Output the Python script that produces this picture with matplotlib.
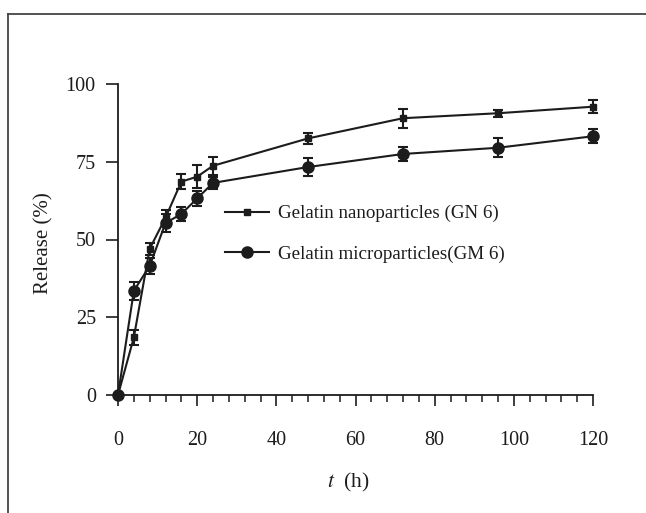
import matplotlib
matplotlib.use("Agg")
import matplotlib.pyplot as plt
from matplotlib.lines import Line2D
from matplotlib.ticker import MultipleLocator

# release data
t_h = [0, 4, 8, 12, 16, 20, 24, 48, 72, 96, 120]
nano = [0, 18.5, 47, 57, 68.6, 70.2, 73.7, 82.5, 89, 90.6, 92.7]
nano_err = [0, 2.5, 2, 2.6, 2.4, 3.7, 2.8, 1.8, 3, 1.2, 2.1]
micro = [0, 33.5, 41.5, 55.3, 58.2, 63.2, 68.2, 73.3, 77.5, 79.5, 83.2]
micro_err = [0, 2.8, 2.6, 3, 2.1, 2.5, 2, 2.9, 2.3, 3, 2.3]
labels = ["Gelatin nanoparticles (GN 6)", "Gelatin microparticles(GM 6)"]
yticks = [0, 25, 50, 75, 100]
xticks = [0, 20, 40, 60, 80, 100, 120]

plt.rcParams["font.family"] = ["Liberation Serif", "DejaVu Serif"]
plt.rcParams["mathtext.fontset"] = "stix"
ink = "#1c1c1c"
fs = 14.5

fig = plt.figure(figsize=(6.46, 5.13), dpi=100)
ax = fig.add_axes([118 / 646, 1 - 395 / 513, 475 / 646, 311 / 513])

ax.errorbar(t_h, nano, yerr=nano_err, fmt="none", ecolor=ink, elinewidth=1.5,
            capsize=3.5, capthick=1.5, clip_on=False)
ax.errorbar(t_h, micro, yerr=micro_err, fmt="none", ecolor=ink, elinewidth=1.5,
            capsize=3.5, capthick=1.5, clip_on=False)
ax.plot(t_h, nano, color=ink, lw=1.5, marker="s", ms=4, label=labels[0],
        clip_on=False, zorder=3)
ax.plot(t_h, micro, color=ink, lw=1.5, marker="o", ms=8, label=labels[1],
        clip_on=False, zorder=3)

ax.set_xlim(0, 120)
ax.set_ylim(0, 100)
ax.set_xticks(xticks)
ax.set_yticks(yticks)
ax.xaxis.set_minor_locator(MultipleLocator(4))
for side in ["top", "right"]:
    ax.spines[side].set_visible(False)
for side in ["left", "bottom"]:
    ax.spines[side].set_color(ink)
    ax.spines[side].set_linewidth(1.3)
ax.tick_params(axis="x", which="major", direction="out", length=8, width=1.2,
               pad=18, labelsize=fs, colors=ink)
ax.tick_params(axis="x", which="minor", direction="out", length=5, width=1.1,
               colors=ink)
ax.tick_params(axis="y", which="major", direction="out", length=9, width=1.2,
               pad=7, labelsize=fs, colors=ink)

ax.set_ylabel("Release (%)", fontsize=15, color=ink)
ax.yaxis.set_label_coords(-0.135, 0.487)
ax.set_xlabel("$t$  (h)", fontsize=15.5, color=ink)
ax.xaxis.set_label_coords(0.485, -0.245)

ax.legend(loc="upper left", bbox_to_anchor=(225 / 646, 1 - 205 / 513),
          bbox_transform=fig.transFigure, frameon=False, borderpad=0,
          borderaxespad=0, handlelength=2.3, handletextpad=0.5,
          labelspacing=1.2, fontsize=13.7, labelcolor=ink)

# frame lines around the figure
fig.add_artist(Line2D([8 / 646, 8 / 646], [0, 1 - 14 / 513], color="#444444", lw=1.3))
fig.add_artist(Line2D([8 / 646, 1], [1 - 14 / 513, 1 - 14 / 513], color="#444444", lw=1.3))

fig.savefig("out.png", dpi=100)
